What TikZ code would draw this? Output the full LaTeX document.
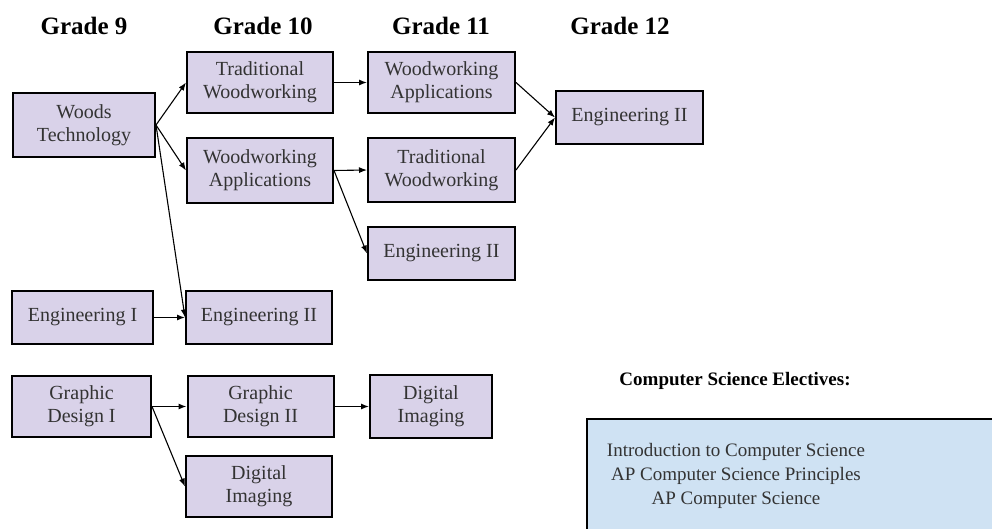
\documentclass[tikz,border=0pt]{standalone}
\usepackage{fontspec}
\setmainfont{Liberation Serif}
\usetikzlibrary{arrows.meta}

\definecolor{lavender}{RGB}{217,210,233}
\definecolor{paleblue}{RGB}{207,226,243}

\tikzstyle{course} = [draw=black, fill=lavender, line width=2pt,
    rectangle, minimum width=146pt, minimum height=61pt, inner sep=2pt,
    align=center, text=black!80, font=\fontsize{20}{23}\selectfont]
\tikzstyle{shortcourse} = [course, minimum height=53pt]
\tikzstyle{gradetitle} = [font=\fontsize{25}{28}\selectfont\bfseries]
\tikzstyle{link} = [draw, line width=1.1pt, -{Latex[length=8pt,width=6pt]}]
\tikzstyle{csbox} = [draw=black, fill=paleblue, line width=2pt, rectangle,
    anchor=north west, minimum width=430pt, minimum height=130pt]

\begin{document}
\begin{tikzpicture}[x=1pt,y=-1pt]
\useasboundingbox (0,0) rectangle (992,529);
\clip (0,0) rectangle (992,529);

% grade headings
\node[gradetitle] (g9) at (84,26) {Grade 9};
\node[gradetitle] (g10) at (263,26) {Grade 10};
\node[gradetitle] (g11) at (441,26) {Grade 11};
\node[gradetitle] (g12) at (620,26) {Grade 12};

% grade 9
\node[course, minimum width=142pt, minimum height=64pt] (wt9) at (84,125) {Woods\\Technology};
\node[shortcourse, minimum width=141pt] (eng9) at (82.5,317.5) {Engineering I};
\node[course, minimum width=139pt] (gd9) at (81.5,406.5) {Graphic\\Design I};

% grade 10
\node[course] (tw10) at (260,82.5) {Traditional\\Woodworking};
\node[course, minimum height=65pt] (wa10) at (260,170.5) {Woodworking\\Applications};
\node[shortcourse] (eng10) at (259,317.5) {Engineering II};
\node[course] (gd10) at (260.5,406.5) {Graphic\\Design II};
\node[course] (di10) at (259,486.5) {Digital\\Imaging};

% grade 11
\node[course, minimum width=147pt] (wa11) at (441.5,82.5) {Woodworking\\Applications};
\node[course, minimum width=147pt, minimum height=64pt] (tw11) at (441.5,170) {Traditional\\Woodworking};
\node[shortcourse, minimum width=147pt] (eng11) at (441.5,253.5) {Engineering II};
\node[course, minimum width=122pt, minimum height=63pt] (di11) at (431,406.5) {Digital\\Imaging};

% grade 12
\node[shortcourse, minimum width=147pt] (eng12) at (629.5,117.5) {Engineering II};

% pathways
\draw[link] (wt9.east) -- (tw10.west);
\draw[link] (wt9.east) -- (wa10.west);
\draw[link] (wt9.east) -- (eng10.west);
\draw[link] (eng9.east) -- (eng10.west);
\draw[link] (gd9.east) -- (gd10.west);
\draw[link] (gd9.east) -- (di10.west);
\draw[link] (tw10.east) -- (wa11.west);
\draw[link] (wa10.east) -- (tw11.west);
\draw[link] (wa10.east) -- (eng11.west);
\draw[link] (gd10.east) -- (di11.west);
\draw[link] (wa11.east) -- (eng12.west);
\draw[link] (tw11.east) -- (eng12.west);

% electives
\node[font=\fontsize{19}{22}\selectfont\bfseries] (cstitle) at (735,381) {Computer Science Electives:};
\node[csbox] (cs) at (586,418) {};
\node[align=center, text=black!80, font=\fontsize{19}{24}\selectfont] (cslist) at (736,476)
    {Introduction to Computer Science\\AP Computer Science Principles\\AP Computer Science};
\end{tikzpicture}
\end{document}
